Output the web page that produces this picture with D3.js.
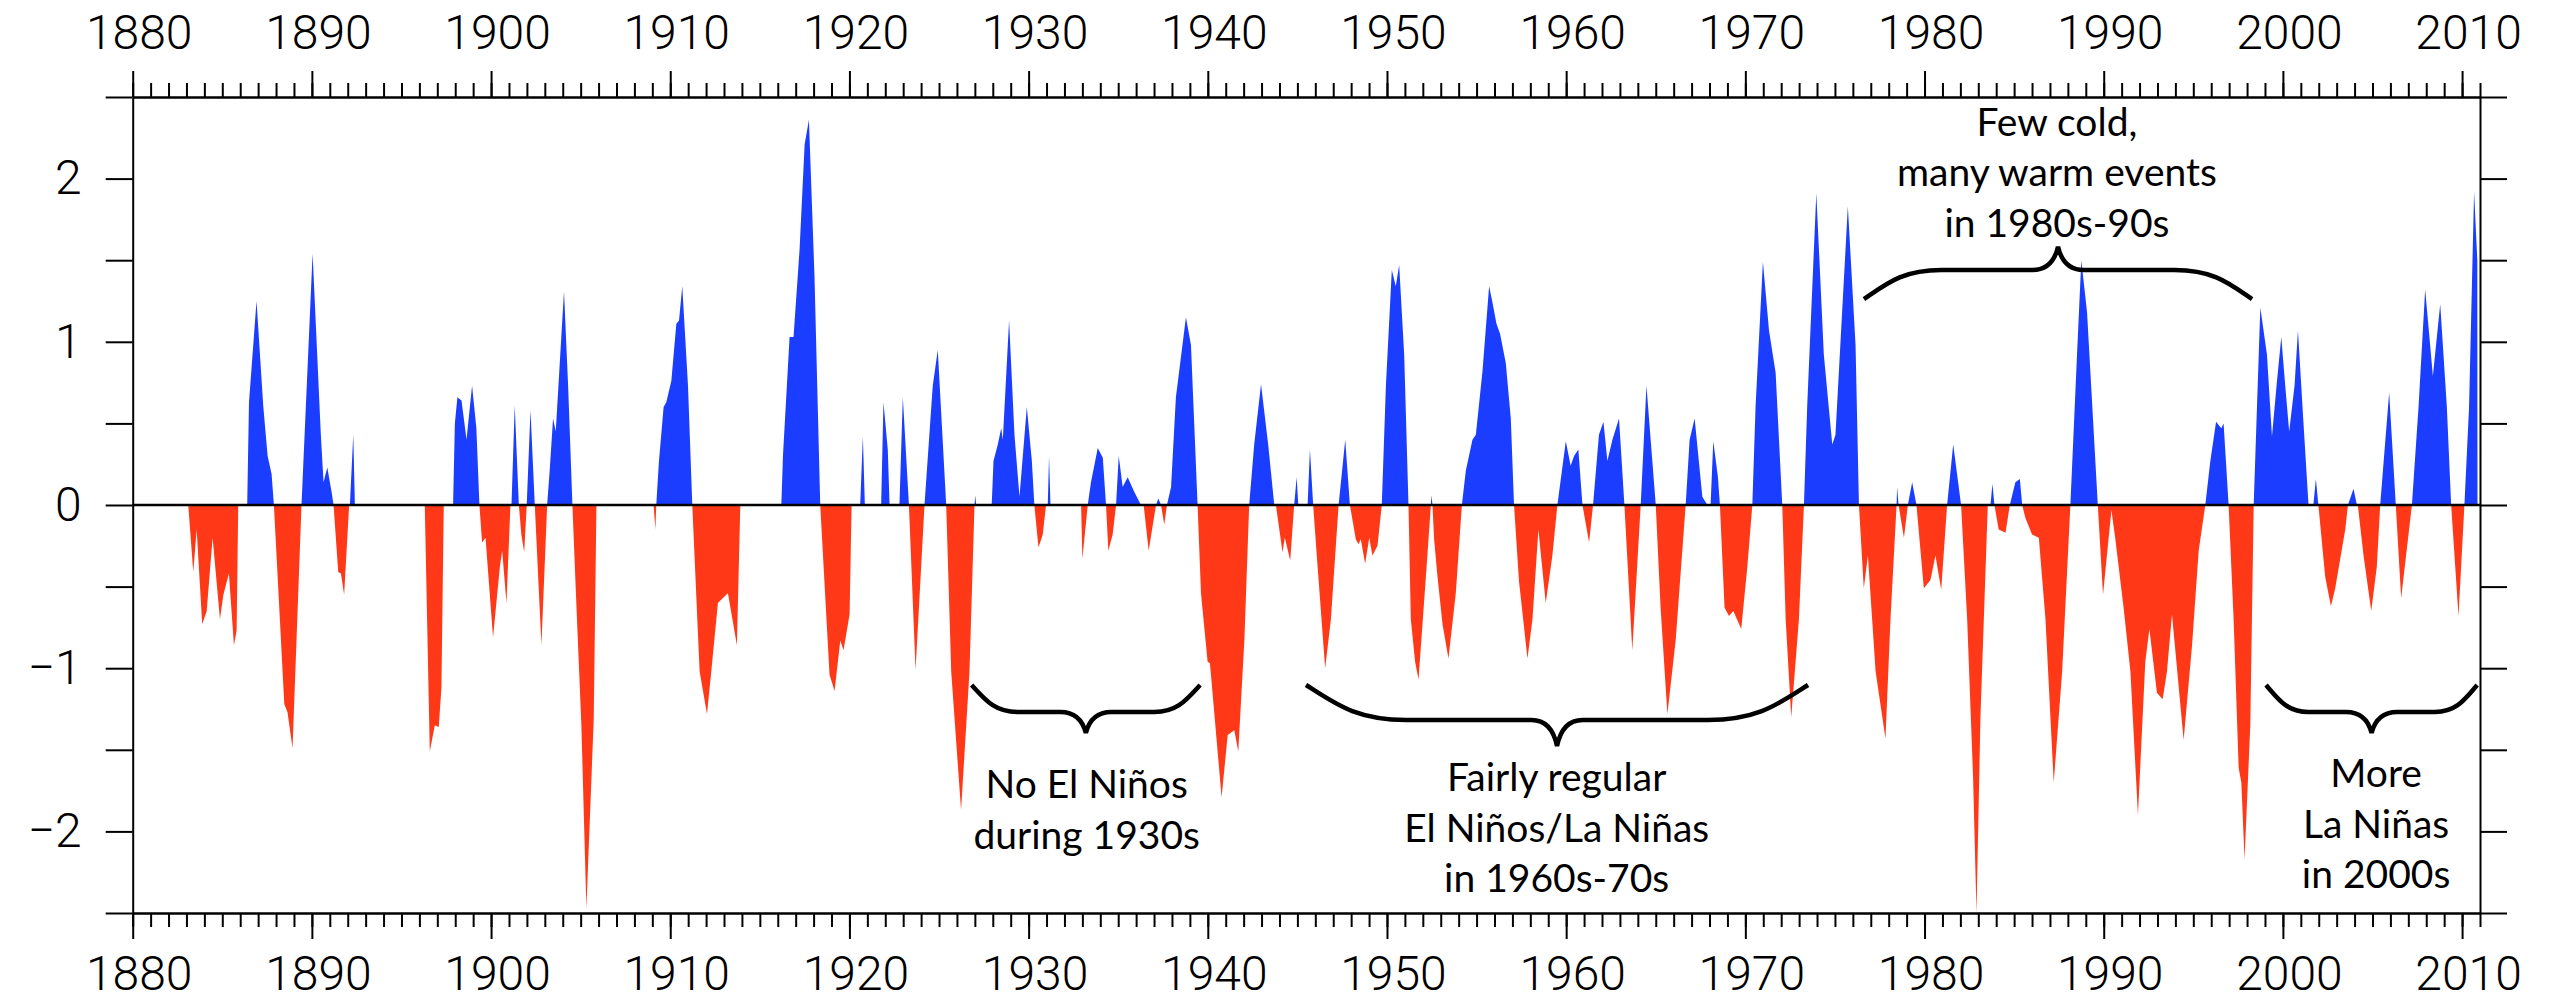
<!DOCTYPE html>
<html>
<head>
<meta charset="utf-8">
<script src="https://cdn.jsdelivr.net/npm/d3@7"></script>
<style>
  body { margin: 0; background: #fff; }
</style>
</head>
<body>
<div id="grafico"></div>
<script>
// Valores del indice, pares [anio, valor]
var soi1880 = [
  [1880.00, 0], [1883.10, 0], [1883.38, -0.41], [1883.57, -0.15], [1883.88, -0.73], [1884.13, -0.65],
  [1884.46, -0.20], [1884.87, -0.70], [1885.06, -0.55], [1885.37, -0.42], [1885.65, -0.86], [1885.80, -0.77],
  [1885.89, 0], [1886.39, 0], [1886.49, 0.63], [1886.91, 1.25], [1887.29, 0.60], [1887.53, 0.30],
  [1887.75, 0.19], [1887.88, 0], [1888.46, -1.22], [1888.64, -1.27], [1888.92, -1.49], [1889.42, 0],
  [1890.04, 1.54], [1890.50, 0.43], [1890.65, 0.14], [1890.86, 0.23], [1891.10, 0.08], [1891.21, 0],
  [1891.47, -0.41], [1891.62, -0.42], [1891.80, -0.55], [1892.08, 0], [1892.12, 0], [1892.31, 0.43],
  [1892.40, 0], [1896.30, 0], [1896.58, -1.51], [1896.86, -1.35], [1897.08, -1.36], [1897.23, -1.12],
  [1897.36, 0], [1897.88, 0], [1897.98, 0.50], [1898.12, 0.66], [1898.35, 0.64], [1898.63, 0.40],
  [1898.94, 0.73], [1899.18, 0.47], [1899.35, 0], [1899.50, -0.23], [1899.69, -0.20], [1900.11, -0.81],
  [1900.49, -0.38], [1900.62, -0.28], [1900.86, -0.60], [1901.08, 0], [1901.14, 0], [1901.32, 0.61],
  [1901.55, 0], [1901.69, -0.18], [1901.85, -0.29], [1901.99, 0]
];

var soi1902 = [
  [1902.20, 0.58], [1902.44, 0], [1902.81, -0.86], [1903.13, 0], [1903.27, 0.21], [1903.46, 0.53],
  [1903.61, 0.45], [1904.07, 1.31], [1904.30, 0.73], [1904.54, 0], [1904.72, -0.50], [1905.04, -1.35],
  [1905.32, -2.47], [1905.73, -1.31], [1905.88, 0], [1909.07, 0], [1909.17, -0.15], [1909.22, 0],
  [1909.37, 0.27], [1909.63, 0.60], [1909.78, 0.63], [1910.06, 0.76], [1910.34, 1.11], [1910.49, 1.13],
  [1910.67, 1.34], [1910.99, 0.73], [1911.23, 0], [1911.64, -1.02], [1912.05, -1.28], [1912.29, -1.02],
  [1912.66, -0.60], [1912.94, -0.57], [1913.22, -0.54], [1913.72, -0.86], [1913.91, 0], [1916.20, 0],
  [1916.29, 0.30], [1916.66, 1.03], [1916.88, 1.03], [1917.22, 1.57], [1917.50, 2.21], [1917.74, 2.36],
  [1918.05, 1.40], [1918.37, 0], [1918.89, -1.04], [1919.17, -1.14], [1919.49, -0.83], [1919.67, -0.89],
  [1920.01, -0.67], [1920.12, 0], [1920.60, 0], [1920.75, 0.42], [1920.86, 0], [1921.77, 0],
  [1921.90, 0.63], [1922.14, 0.34], [1922.24, 0], [1922.79, 0], [1922.98, 0.66], [1923.32, 0],
  [1923.69, -1.01], [1924.19, 0]
];

var soi1924 = [
  [1924.65, 0.73], [1924.93, 0.95], [1925.40, 0], [1925.68, -1.02], [1926.23, -1.87], [1926.70, -1.02],
  [1926.98, 0], [1927.02, 0.06], [1927.07, 0], [1927.94, 0], [1928.04, 0.27], [1928.28, 0.37],
  [1928.47, 0.47], [1928.56, 0.40], [1928.91, 1.13], [1929.21, 0.43], [1929.49, 0.05], [1929.90, 0.60],
  [1930.18, 0.27], [1930.32, 0], [1930.55, -0.26], [1930.79, -0.18], [1930.97, 0], [1931.07, 0],
  [1931.14, 0.30], [1931.22, 0], [1932.93, 0], [1933.00, -0.33], [1933.30, 0], [1933.48, 0.14],
  [1933.86, 0.35], [1934.14, 0.29], [1934.32, 0], [1934.45, -0.28], [1934.69, -0.18], [1934.88, 0],
  [1935.03, 0.30], [1935.25, 0.11], [1935.53, 0.17], [1935.90, 0.08], [1936.27, 0], [1936.42, 0],
  [1936.70, -0.28], [1937.11, 0], [1937.24, 0.04], [1937.39, 0], [1937.57, -0.12], [1937.72, 0],
  [1937.95, 0.11], [1938.22, 0.66], [1938.78, 1.15], [1939.06, 0.98], [1939.43, 0], [1939.62, -0.54],
  [1939.99, -0.96], [1940.12, -0.97], [1940.77, -1.79], [1941.11, -1.41], [1941.48, -1.38], [1941.70, -1.51],
  [1942.04, -0.83], [1942.31, 0], [1942.59, 0.37], [1942.97, 0.74], [1943.37, 0.37], [1943.71, 0],
  [1943.80, 0], [1944.17, -0.29], [1944.30, -0.20], [1944.60, -0.34], [1944.82, 0], [1944.96, 0.17],
  [1945.05, 0], [1945.57, 0], [1945.70, 0.34], [1945.88, 0]
];

var soi1946 = [
  [1946.13, -0.38], [1946.55, -1.00], [1946.87, -0.70], [1947.30, 0], [1947.67, 0.40], [1947.93, 0],
  [1948.26, -0.21], [1948.41, -0.24], [1948.54, -0.21], [1948.78, -0.36], [1949.01, -0.20], [1949.19, -0.31],
  [1949.47, -0.25], [1949.71, 0], [1949.94, 0.73], [1950.27, 1.44], [1950.49, 1.34], [1950.68, 1.47],
  [1950.96, 0.92], [1951.20, 0], [1951.33, -0.70], [1951.57, -0.96], [1951.76, -1.07], [1952.21, -0.38],
  [1952.45, 0], [1952.48, 0.06], [1952.54, 0], [1952.63, -0.21], [1952.82, -0.44], [1953.10, -0.73],
  [1953.43, -0.94], [1953.84, -0.54], [1954.18, 0], [1954.40, 0.21], [1954.77, 0.40], [1954.96, 0.43],
  [1955.33, 0.82], [1955.70, 1.34], [1955.89, 1.24], [1956.11, 1.11], [1956.31, 1.05], [1956.63, 0.87],
  [1956.91, 0.53], [1957.09, 0], [1957.37, -0.47], [1957.84, -0.94], [1958.12, -0.70], [1958.45, -0.15],
  [1958.86, -0.60], [1959.23, -0.31], [1959.51, 0], [1959.98, 0.39], [1960.25, 0.24], [1960.44, 0.30],
  [1960.68, 0.34], [1960.91, 0], [1961.28, -0.23], [1961.50, 0], [1961.83, 0.43], [1962.08, 0.51],
  [1962.30, 0.27], [1962.58, 0.40], [1962.95, 0.53], [1963.25, 0], [1963.69, -0.89], [1964.16, 0],
  [1964.48, 0.73], [1965.00, 0], [1965.27, -0.63], [1965.65, -1.28], [1966.11, -0.83], [1966.67, 0],
  [1966.89, 0.40], [1967.17, 0.53], [1967.60, 0.05], [1967.88, 0], [1968.06, 0], [1968.21, 0.39]
];

var soi1968 = [
  [1968.47, 0.17], [1968.58, 0], [1968.84, -0.63], [1969.09, -0.68], [1969.33, -0.65], [1969.77, -0.76],
  [1970.11, -0.38], [1970.39, 0], [1970.57, 0.60], [1970.98, 1.49], [1971.32, 1.07], [1971.69, 0.81],
  [1972.06, 0], [1972.25, -0.70], [1972.56, -1.30], [1972.99, -0.70], [1973.27, 0], [1973.45, 0.60],
  [1973.96, 1.91], [1974.38, 0.92], [1974.85, 0.37], [1975.03, 0.43], [1975.72, 1.83], [1976.15, 0.98],
  [1976.34, 0], [1976.61, -0.51], [1976.84, -0.31], [1977.27, -1.02], [1977.82, -1.43], [1978.10, -0.70],
  [1978.44, 0], [1978.47, 0.11], [1978.55, 0], [1978.85, -0.20], [1979.07, 0], [1979.31, 0.14],
  [1979.55, 0], [1979.96, -0.51], [1980.33, -0.46], [1980.61, -0.31], [1980.93, -0.52], [1981.26, 0],
  [1981.60, 0.37], [1982.04, 0], [1982.38, -0.70], [1982.71, -1.67], [1982.90, -2.50], [1983.12, -1.30],
  [1983.53, 0], [1983.68, 0], [1983.79, 0.13], [1983.90, 0], [1984.14, -0.15], [1984.52, -0.17],
  [1984.76, 0], [1985.07, 0.14], [1985.32, 0.16], [1985.45, 0], [1985.63, -0.08], [1986.00, -0.18],
  [1986.38, -0.20], [1986.75, -0.70], [1987.21, -1.70], [1987.68, -1.02], [1988.14, 0], [1988.51, 0.92],
  [1988.75, 1.50], [1989.07, 1.18], [1989.67, 0], [1989.96, -0.55]
];

var soi1990 = [
  [1990.43, -0.03], [1990.65, -0.21], [1991.11, -0.63], [1991.49, -1.02], [1991.91, -1.90], [1992.32, -0.96],
  [1992.55, -0.76], [1992.97, -1.15], [1993.29, -1.19], [1993.53, -1.02], [1993.81, -0.67], [1994.46, -1.44],
  [1994.93, -0.86], [1995.30, -0.28], [1995.67, 0], [1995.95, 0.27], [1996.27, 0.51], [1996.56, 0.47],
  [1996.69, 0.50], [1996.82, 0.27], [1996.97, 0], [1997.25, -0.70], [1997.53, -1.61], [1997.68, -1.70],
  [1997.86, -2.17], [1998.18, -1.35], [1998.37, 0], [1998.74, 1.21], [1999.11, 0.92], [1999.39, 0.42],
  [1999.67, 0.76], [1999.91, 1.03], [2000.13, 0.73], [2000.35, 0.45], [2000.65, 0.73], [2000.84, 1.07],
  [2001.15, 0.50], [2001.43, 0], [2001.70, 0], [2001.84, 0.16], [2001.98, 0], [2002.36, -0.44],
  [2002.68, -0.62], [2002.92, -0.51], [2003.48, -0.15], [2003.63, 0], [2003.94, 0.10], [2004.13, 0],
  [2004.18, 0], [2004.50, -0.31], [2004.93, -0.65], [2005.24, -0.38], [2005.43, 0], [2005.93, 0.69],
  [2006.30, 0], [2006.60, -0.57], [2007.20, 0], [2007.57, 0.60], [2007.94, 1.32], [2008.37, 0.79],
  [2008.78, 1.23], [2009.15, 0.60], [2009.39, 0], [2009.80, -0.68], [2010.13, 0], [2010.39, 0.60],
  [2010.67, 1.92], [2010.85, 1.50], [2010.86, 0]
];

// Marcas de los ejes
var yearTicks = d3.range(1880, 2012, 1);
var decadeTicks = d3.range(1880, 2011, 10);
var valueTicks = d3.range(-2.5, 2.51, 0.5);

// Llaves: [anio inicio, anio fin, valor extremos, valor tramo recto, valor punta]
var braces = [
  [1926.82, 1939.57, -1.103, -1.268, -1.397],
  [1945.48, 1973.50, -1.103, -1.317, -1.477],
  [1976.62, 1998.28, 1.262, 1.440, 1.583],
  [1999.06, 2010.84, -1.103, -1.268, -1.397]
];

// Textos de las llaves
var notes = [
  {year: 1933.24, top: -1.795, lines: ["No El Niños", "during 1930s"]},
  {year: 1959.47, top: -1.752, lines: ["Fairly regular", "El Niños/La Niñas", "in 1960s-70s"]},
  {year: 1987.39, top: 2.263, lines: ["Few cold,", "many warm events", "in 1980s-90s"]},
  {year: 2005.20, top: -1.728, lines: ["More", "La Niñas", "in 2000s"]}
];

var width = 2561, height = 1002;

var svg = d3.select("#grafico")
  .append("svg")
    .attr("width", width)
    .attr("height", height)
    .style("display", "block")
    .style("background", "#fff");

var x = d3.scaleLinear()
  .domain([1880, 2011])
  .range([132.7, 2480]);

var y = d3.scaleLinear()
  .domain([-2.5, 2.5])
  .range([913, 97]);

var soi = [].concat(soi1880, soi1902, soi1924, soi1946, soi1968, soi1990);

// Recortes para separar positivos y negativos
var defs = svg.append("defs");
defs.append("clipPath").attr("id", "arriba")
  .append("rect")
    .attr("x", x(1880)).attr("y", y(2.5))
    .attr("width", x(2011) - x(1880)).attr("height", y(0) - y(2.5));
defs.append("clipPath").attr("id", "abajo")
  .append("rect")
    .attr("x", x(1880)).attr("y", y(0))
    .attr("width", x(2011) - x(1880)).attr("height", y(-2.5) - y(0));

var area = d3.area()
  .x(function(d) { return x(d[0]); })
  .y0(y(0))
  .y1(function(d) { return y(d[1]); });

svg.append("path")
  .datum(soi)
    .attr("clip-path", "url(#arriba)")
    .attr("fill", "#1b3dff")
    .attr("d", area);

svg.append("path")
  .datum(soi)
    .attr("clip-path", "url(#abajo)")
    .attr("fill", "#ff3818")
    .attr("d", area);

// Linea de cero
svg.append("line")
  .attr("x1", x(1880)).attr("x2", x(2011))
  .attr("y1", y(0)).attr("y2", y(0))
  .attr("stroke", "#000")
  .attr("stroke-width", 2.5);

function estilo(g) {
  g.selectAll("line").attr("stroke", "#000").attr("stroke-width", 2);
  g.select(".domain").attr("stroke", "#000").attr("stroke-width", 2);
  g.selectAll("text")
    .attr("fill", "#000")
    .attr("font-family", "Roboto, 'Liberation Sans', sans-serif")
    .attr("font-weight", 300)
    .attr("font-size", 48);
}

// Eje X arriba
svg.append("g")
  .attr("transform", "translate(0," + y(2.5) + ")")
  .call(d3.axisTop(x).tickValues(yearTicks).tickSize(14).tickSizeOuter(0).tickFormat(""))
  .call(estilo);
svg.append("g")
  .attr("transform", "translate(0," + y(2.5) + ")")
  .call(d3.axisTop(x).tickValues(decadeTicks).tickSize(26).tickSizeOuter(0).tickPadding(22).tickFormat(d3.format("d")))
  .call(estilo)
  .selectAll("text").attr("dx", 6);

// Eje X abajo
svg.append("g")
  .attr("transform", "translate(0," + y(-2.5) + ")")
  .call(d3.axisBottom(x).tickValues(yearTicks).tickSize(14).tickSizeOuter(0).tickFormat(""))
  .call(estilo);
svg.append("g")
  .attr("transform", "translate(0," + y(-2.5) + ")")
  .call(d3.axisBottom(x).tickValues(decadeTicks).tickSize(26).tickSizeOuter(0).tickPadding(17).tickFormat(d3.format("d")))
  .call(estilo)
  .selectAll("text").attr("dx", 6);

// Eje Y izquierdo
svg.append("g")
  .attr("transform", "translate(" + x(1880) + ",0)")
  .call(d3.axisLeft(y).tickValues(valueTicks).tickSize(27).tickSizeOuter(0).tickPadding(24)
    .tickFormat(function(d) { return Number.isInteger(d) ? d3.format("d")(d) : ""; }))
  .call(estilo);

// Eje Y derecho
svg.append("g")
  .attr("transform", "translate(" + x(2011) + ",0)")
  .call(d3.axisRight(y).tickValues(valueTicks).tickSize(27).tickSizeOuter(0).tickFormat(""))
  .call(estilo);

// Llaves
function llave(x0, x1, yEnd, yFlat, yTip) {
  var w = x1 - x0, xc = (x0 + x1) / 2, d = yFlat - yEnd, t = yTip - yFlat, h = 16;
  var p = d3.path();
  p.moveTo(x0, yEnd);
  p.bezierCurveTo(x0 + 0.06 * w, yEnd + 0.55 * d, x0 + 0.1 * w, yFlat, x0 + 0.2 * w, yFlat);
  p.lineTo(xc - 1.6 * h, yFlat);
  p.bezierCurveTo(xc - 0.7 * h, yFlat, xc - 0.2 * h, yFlat + 0.4 * t, xc, yTip);
  p.bezierCurveTo(xc + 0.2 * h, yFlat + 0.4 * t, xc + 0.7 * h, yFlat, xc + 1.6 * h, yFlat);
  p.lineTo(x1 - 0.2 * w, yFlat);
  p.bezierCurveTo(x1 - 0.1 * w, yFlat, x1 - 0.06 * w, yEnd + 0.55 * d, x1, yEnd);
  return p.toString();
}

svg.append("g")
  .selectAll("path")
  .data(braces)
  .enter()
  .append("path")
    .attr("d", function(b) { return llave(x(b[0]), x(b[1]), y(b[2]), y(b[3]), y(b[4])); })
    .attr("fill", "none")
    .attr("stroke", "#000")
    .attr("stroke-width", 4.5);

// Textos
notes.forEach(function(n) {
  var t = svg.append("text")
    .attr("text-anchor", "middle")
    .attr("font-family", "Lato, 'Open Sans', sans-serif")
    .attr("font-size", 39)
    .attr("fill", "#000");
  n.lines.forEach(function(line, i) {
    t.append("tspan")
      .attr("x", x(n.year))
      .attr("y", y(n.top) + i * 50.7)
      .text(line);
  });
});
</script>
</body>
</html>
